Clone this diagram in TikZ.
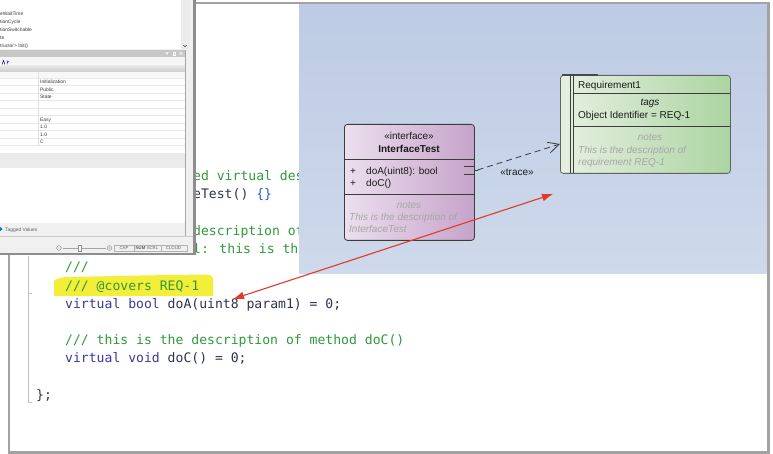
\documentclass[tikz,border=0pt]{standalone}
\usepackage{fontspec}
\setmainfont{Liberation Sans}
\newfontfamily\codefont{DejaVu Sans Mono}
\usetikzlibrary{arrows.meta}
\definecolor{framegray}{HTML}{A2A2A2}
\definecolor{cgreen}{HTML}{2F9A3C}
\definecolor{ckw}{HTML}{3A3A98}
\definecolor{cid}{HTML}{2F3352}
\definecolor{cblue}{HTML}{2A5CC0}
\definecolor{hiyellow}{HTML}{F3EE38}
\definecolor{bluetop}{HTML}{BDCBE4}
\definecolor{bluebot}{HTML}{CED9EB}
\definecolor{ifleft}{HTML}{ECDFEE}
\definecolor{ifright}{HTML}{C6A3CA}
\definecolor{rqleft}{HTML}{E6F0E1}
\definecolor{rqright}{HTML}{ACD4A2}
\definecolor{umlline}{HTML}{3C3C3C}
\definecolor{umlink}{HTML}{1A1A1A}
\definecolor{notegray}{HTML}{A6A6A6}
\definecolor{redline}{HTML}{E2392A}
\definecolor{panelbg}{HTML}{F0F0F0}
\definecolor{paneltext}{HTML}{383838}
\definecolor{panelborder}{HTML}{8E8E8E}
\tikzset{
  codetxt/.style={font=\codefont\fontsize{13.1}{15}\selectfont, anchor=base west, inner sep=0pt},
  umltxt/.style={font=\fontsize{10}{12}\selectfont, inner sep=0pt, text=umlink},
  notetxt/.style={font=\itshape\fontsize{10}{12}\selectfont, inner sep=0pt, text=notegray},
  tinytxt/.style={font=\fontsize{4.9}{5}\selectfont, inner sep=0pt, anchor=base west, text=paneltext},
  statustxt/.style={font=\fontsize{4.3}{5}\selectfont, inner sep=0pt, anchor=base, text=paneltext!80},
  ifbox/.style={draw=umlline, line width=0.8pt, rounded corners=3pt, left color=ifleft, right color=ifright, inner sep=0pt},
  rqbox/.style={draw=umlline!80, line width=0.8pt, rounded corners=3pt, left color=rqleft, right color=rqright, inner sep=0pt},
  divider/.style={draw=umlline, line width=0.8pt},
  tracearrow/.style={draw=umlline, line width=0.8pt, dash pattern=on 6pt off 4pt, -{Straight Barb[length=11pt,width=11pt,line width=0.8pt]}},
  redarrow/.style={draw=redline, line width=1.1pt, {Latex[length=11pt,width=8pt]}-{Latex[length=11pt,width=8pt]}},
}
\begin{document}
\begin{tikzpicture}[x=1pt,y=-1pt]
\useasboundingbox (0,0) rectangle (773,454);
\fill[white] (0,0) rectangle (773,454);

% ---------- code editor ----------
\draw[black!25, line width=0.6pt] (28,256) -- (28,402) -- (32,402);
\draw[black!25, line width=0.6pt] (28,293) -- (32,293);
\fill[hiyellow] (54,296) -- (54,281) .. controls (57,278) and (62,277) .. (70,277) -- (140,275.5) -- (205,274.5) .. controls (210,274.5) and (213,276) .. (213,279) -- (213,296) -- cycle;
\node[codetxt, text=cgreen] (c1) at (193,180.8) {ed virtual des};
\node[codetxt] (c2) at (193,199) {\textcolor{cid}{eTest() }\textcolor{cblue}{\{\}}};
\node[codetxt, text=cgreen] (c3) at (193,235.4) {description of};
\node[codetxt, text=cgreen] (c4) at (193,253.6) {l: this is the};
\node[codetxt, text=cgreen] (c5) at (65,271.8) {///};
\node[codetxt, text=cgreen] (c6) at (65,290) {/// @covers REQ-1};
\node[codetxt] (c7) at (65,308.2) {\textcolor{ckw}{virtual bool} \textcolor{cid}{doA(uint8 param1) = 0;}};
\node[codetxt, text=cgreen] (c8) at (65,344.6) {/// this is the description of method doC()};
\node[codetxt] (c9) at (65,362.8) {\textcolor{ckw}{virtual void} \textcolor{cid}{doC() = 0;}};
\node[codetxt, text=cid] (c10) at (36,399.2) {\};};

% ---------- diagram canvas ----------
\shade[top color=bluetop, bottom color=bluebot] (299,5) rectangle (766.5,273);

% interface class
\node[ifbox, minimum width=130pt, minimum height=116pt, anchor=north west] (iface) at (344,124) {};
\draw[divider] (344,159) -- (474,159);
\draw[divider] (344,194) -- (474,194);
\node[umltxt, anchor=base] (ifst) at (409,139.5) {«interface»};
\node[umltxt, anchor=base, font=\bfseries\fontsize{10}{12}\selectfont] (ifname) at (409,152.5) {InterfaceTest};
\node[umltxt, anchor=base west] (p1) at (350,174.5) {+};
\node[umltxt, anchor=base west] (m1) at (366,174.5) {doA(uint8): bool};
\node[umltxt, anchor=base west] (p2) at (350,186.5) {+};
\node[umltxt, anchor=base west] (m2) at (366,186.5) {doC()};
\node[notetxt, anchor=base] (ifnotes) at (409,208.5) {notes};
\node[notetxt, anchor=base west] (ifn1) at (349,220.5) {This is the description of};
\node[notetxt, anchor=base west] (ifn2) at (349,232.5) {InterfaceTest};
\draw[umlline, line width=0.8pt] (464,166.5) -- (474,166.5) -- (474,174) -- (464,174);
\coordinate (port) at (477.5,170);
\draw[umlline, line width=0.8pt] (474,170) -- (port);

% requirement
\node[rqbox, minimum width=170pt, minimum height=98pt, anchor=north west] (req) at (560,75) {};
\draw[umlline!80!gray, line width=1.6pt] (562,75.3) -- (598,75.3);
\draw[umlline, line width=0.8pt] (570,75) -- (570,173);
\draw[umlline, line width=0.8pt] (573.5,75) -- (573.5,173);
\draw[divider] (573.5,93) -- (730,93);
\draw[divider] (573.5,126) -- (730,126);
\node[umltxt, anchor=base west] (rqname) at (578,88.5) {Requirement1};
\node[umltxt, anchor=base, font=\itshape\fontsize{10}{12}\selectfont] (rqtags) at (650,105.5) {tags};
\node[umltxt, anchor=base west] (rqtag1) at (578,118.5) {Object Identifier = REQ-1};
\node[notetxt, anchor=base] (rqnotes) at (650,140.5) {notes};
\node[notetxt, anchor=base west] (rqn1) at (578,153.5) {This is the description of};
\node[notetxt, anchor=base west] (rqn2) at (578,165.5) {requirement REQ-1};
\coordinate (reqin) at (560,144);

% trace dependency
\draw[tracearrow] (port) -- (reqin);
\node[umltxt, anchor=base] (tracelbl) at (517,175.5) {«trace»};

% red link arrow
\coordinate (codeA) at (233,299);
\coordinate (reqA) at (553,194);
\draw[redarrow] (codeA) -- (reqA);

% ---------- main window frame ----------
\draw[framegray, line width=2.6pt] (9,3) -- (768.5,3) -- (768.5,452.5) -- (9,452.5) -- cycle;

% ---------- left properties panel ----------
\fill[panelbg] (0,0) rectangle (196,255);
\fill[white] (0,0) rectangle (181,49);
\fill[black!8] (181,0) rectangle (190,49);
\draw[paneltext, line width=0.5pt] (183.3,45) -- (185,46.8) -- (186.7,45);
\node[tinytxt] (l1) at (0,15.6) {eWaitTime};
\node[tinytxt] (l2) at (0,23.6) {tionCycle};
\node[tinytxt] (l3) at (0,31.6) {tionSwitchable};
\node[tinytxt] (l4) at (0,39.6) {te};
\node[tinytxt] (l5) at (0,47.6) {tructor> Init()};
% title bar
\fill[black!22] (0,50) rectangle (185,57);
\fill[white] (165.3,52.3) -- (168.7,52.3) -- (167,54.6) -- cycle;
\draw[white, line width=0.5pt] (172.8,51.8) rectangle (175.2,55.2);
\draw[white, line width=0.5pt] (179.6,52) -- (182.6,55) (179.6,55) -- (182.6,52);
% toolbar
\fill[black!4] (0,57) rectangle (185,66);
\shade[top color=black!10, bottom color=black!20] (0,66) rectangle (185,72);
\draw[blue!55!black, line width=0.5pt] (2,64.5) -- (3.5,60.5) -- (5,64.5) (7,60.5) -- (7,64.5) (7,62.5) -- (9,61.5);
% grid
\fill[white] (0,72) rectangle (185,153);
\fill[black!3] (0,72) rectangle (185,78);
\foreach \r in {0,...,9} \draw[black!9, line width=0.4pt] (0,78.2+7.5*\r) -- (185,78.2+7.5*\r);
\draw[black!12, line width=0.4pt] (38,72) -- (38,146);
\node[tinytxt] (v1) at (40,83.6) {Initialization};
\node[tinytxt] (v2) at (40,91.1) {Public};
\node[tinytxt] (v3) at (40,98.6) {State};
\node[tinytxt] (v4) at (40,121.1) {Easy};
\node[tinytxt] (v5) at (40,128.6) {1.0};
\node[tinytxt] (v6) at (40,136.1) {1.0};
\node[tinytxt] (v7) at (40,143.6) {C};
\fill[black!8] (0,153) rectangle (185,168);
\fill[white] (0,168) rectangle (185,223);
\draw[black!35, line width=0.6pt] (185.3,50) -- (185.3,236);
% tab strip
\fill[panelbg] (0,223) rectangle (185,236);
\fill[blue!60!cyan] (0.5,229) circle (1.8);
\node[tinytxt, text=paneltext!80] (tab) at (5,231.6) {Tagged Values};
\draw[black!20, line width=0.5pt] (0,236.5) -- (193,236.5);
% status bar
\draw[black!45, line width=0.4pt] (59,248) circle (2.4) (57.6,248) -- (60.4,248);
\draw[black!35, line width=0.5pt] (63,248) -- (106,248);
\draw[black!45, fill=white, line width=0.4pt] (78.5,245.2) rectangle (81.5,250.8);
\draw[black!45, line width=0.4pt] (109.5,248) circle (2.4) (108.1,248) -- (110.9,248) (109.5,246.6) -- (109.5,249.4);
\draw[black!30, line width=0.4pt] (114,245) rectangle (187,251) (134,245) -- (134,251) (161,245) -- (161,251);
\node[statustxt] (s1) at (124,249.6) {CAP};
\node[statustxt, font=\bfseries\fontsize{4.3}{5}\selectfont] (s2) at (140.5,249.6) {NUM};
\node[statustxt] (s3) at (152.5,249.6) {SCRL};
\node[statustxt] (s4) at (173.5,249.6) {CLOUD};
% panel borders
\draw[panelborder, line width=2.6pt] (194.6,0) -- (194.6,254.2) -- (0,254.2);
\end{tikzpicture}
\end{document}
